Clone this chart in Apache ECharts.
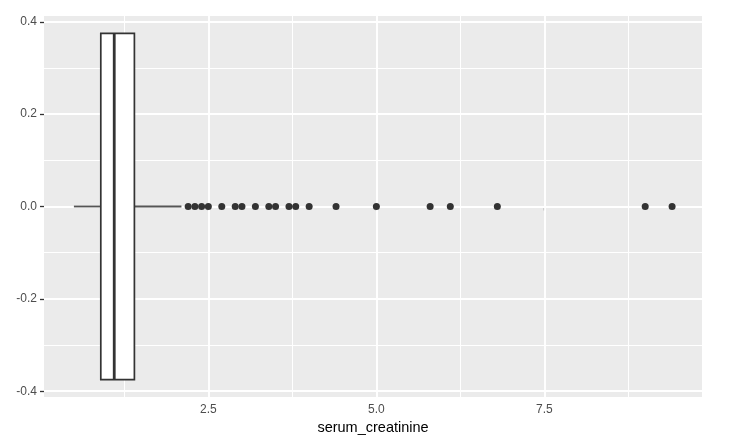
<!DOCTYPE html>
<html>
<head>
<meta charset="utf-8">
<script src="https://cdn.jsdelivr.net/npm/echarts@6/dist/echarts.min.js"></script>
<style>
html,body{margin:0;padding:0;background:#fff;}
#chart{width:742px;height:443px;}
</style>
</head>
<body>
<div id="chart"></div>
<script>
// Box statistics: [lower whisker, Q1, median, Q3, upper whisker]
const boxStats = [0.5, 0.9, 1.1, 1.4, 2.1];
// Outliers (serum_creatinine)
const outliers = [2.2, 2.3, 2.4, 2.5, 2.7, 2.9, 3.0, 3.2, 3.4, 3.5, 3.7, 3.8, 4.0, 4.4, 5.0, 5.8, 6.1, 6.8, 9.0, 9.4];
// Tick labels / breaks
const xMajor = [2.5, 5.0, 7.5];
const xMinor = [1.25, 3.75, 6.25, 8.75];
const yMajor = [-0.4, -0.2, 0.0, 0.2, 0.4];
const yMinor = [-0.3, -0.1, 0.1, 0.3];
const xTitle = 'serum_creatinine';

const halfWidth = 0.375;
const xLo = 0.5 - 0.05 * (9.4 - 0.5), xHi = 9.4 + 0.05 * (9.4 - 0.5);
const yLo = -halfWidth * 1.1, yHi = halfWidth * 1.1;

const font = 'Liberation Sans, Arial, sans-serif';
const chart = echarts.init(document.getElementById('chart'), null, {renderer: 'canvas'});

function gridLines(vals, axis, width) {
  return vals.map(v => ({[axis]: v, lineStyle: {color: '#ffffff', width: width, type: 'solid'}}));
}

chart.setOption({
  animation: false,
  backgroundColor: '#ffffff',
  grid: {left: 44, right: 40, top: 16, bottom: 46, show: true, backgroundColor: '#EBEBEB', borderWidth: 0},
  xAxis: {
    type: 'value', min: xLo, max: xHi,
    name: xTitle, nameLocation: 'middle', nameGap: 23,
    nameTextStyle: {color: '#000000', fontSize: 14.5, fontFamily: font},
    axisLine: {show: false},
    axisTick: {show: true, length: 4, lineStyle: {color: '#333333', width: 1.3}, customValues: xMajor},
    axisLabel: {color: '#4D4D4D', fontSize: 12, fontFamily: font, margin: 7, customValues: xMajor,
      formatter: v => v.toFixed(1)},
    splitLine: {show: false}
  },
  yAxis: {
    type: 'value', min: yLo, max: yHi,
    axisLine: {show: false},
    axisTick: {show: true, length: 4, lineStyle: {color: '#333333', width: 1.3}, customValues: yMajor},
    axisLabel: {color: '#4D4D4D', fontSize: 12, fontFamily: font, margin: 7, customValues: yMajor,
      formatter: v => v.toFixed(1)},
    splitLine: {show: false}
  },
  series: [
    {
      type: 'line', data: [], silent: true, z: 1,
      markLine: {
        z: 1, zlevel: 0,
        silent: true, symbol: ['none', 'none'], label: {show: false}, animation: false,
        data: [].concat(
          gridLines(xMinor, 'xAxis', 1),
          gridLines(yMinor, 'yAxis', 1),
          gridLines(xMajor, 'xAxis', 1.9),
          gridLines(yMajor, 'yAxis', 1.9)
        )
      }
    },
    {
      type: 'custom', z: 20, silent: true,
      data: [boxStats],
      renderItem: function (params, api) {
        const lw = api.value(0), q1 = api.value(1), md = api.value(2), q3 = api.value(3), uw = api.value(4);
        const p = (x, y) => api.coord([x, y]);
        const a = p(q1, halfWidth), b = p(q3, -halfWidth);
        const stroke = '#333333';
        return {
          type: 'group',
          children: [
            {type: 'line', shape: {x1: p(lw, 0)[0], y1: p(lw, 0)[1], x2: p(q1, 0)[0], y2: p(q1, 0)[1]},
              style: {stroke: '#555555', lineWidth: 1.8}},
            {type: 'line', shape: {x1: p(q3, 0)[0], y1: p(q3, 0)[1], x2: p(uw, 0)[0], y2: p(uw, 0)[1]},
              style: {stroke: '#555555', lineWidth: 1.8}},
            {type: 'rect', shape: {x: a[0], y: a[1], width: b[0] - a[0], height: b[1] - a[1]},
              style: {fill: '#ffffff', stroke: stroke, lineWidth: 1.7}},
            {type: 'line', shape: {x1: p(md, halfWidth)[0], y1: p(md, halfWidth)[1], x2: p(md, -halfWidth)[0], y2: p(md, -halfWidth)[1]},
              style: {stroke: stroke, lineWidth: 2.8}}
          ]
        };
      }
    },
    {
      type: 'scatter', z: 30, silent: true,
      data: outliers.map(v => [v, 0]),
      symbol: 'circle', symbolSize: 7,
      itemStyle: {color: '#333333', opacity: 1}
    }
  ]
});
</script>
</body>
</html>
